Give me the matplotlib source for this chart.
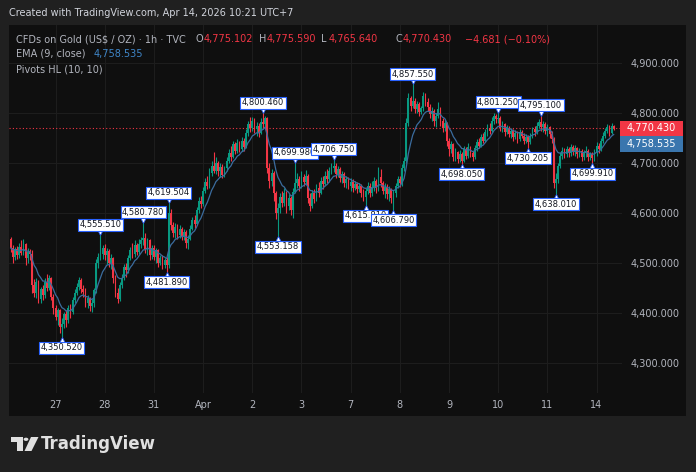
import matplotlib.pyplot as plt
import matplotlib.patches as mpatches
import matplotlib.transforms as mtransforms
import numpy as np
import pandas as pd

W, H = 696, 472

# x-axis day labels and the bar where each day starts
day_labels = ["27", "28", "31", "Apr", "2", "3", "7", "8", "9", "10", "11", "14"]
day_start = [21, 44, 67, 90, 113, 136, 159, 182, 205, 228, 251, 274]

first_open = 4548.0
closes = [
    4530, 4512, 4528, 4515, 4532, 4520, 4538, 4510, 4522, 4518, 4455, 4440, 4462, 4428, 4448, 4436, 4462, 4450, 4470, 4432, 4410,
    4392, 4405, 4372, 4378, 4398, 4385, 4410, 4402, 4425, 4440, 4452, 4465, 4448, 4442, 4420, 4430, 4414, 4420, 4445, 4500, 4512, 4518, 4530,
    4515, 4524, 4500, 4510, 4470, 4440, 4428, 4455, 4470, 4492, 4485, 4510, 4525, 4518, 4535, 4522, 4538, 4545, 4550, 4528, 4545, 4515, 4530,
    4512, 4525, 4500, 4510, 4496, 4505, 4495, 4600, 4575, 4560, 4572, 4555, 4568, 4552, 4562, 4540, 4548, 4568, 4585, 4578, 4605, 4625, 4618,
    4645, 4662, 4655, 4680, 4695, 4685, 4700, 4685, 4692, 4676, 4690, 4705, 4720, 4712, 4738, 4725, 4740, 4728, 4745, 4732, 4760, 4778, 4770,
    4785, 4768, 4775, 4760, 4782, 4778, 4790, 4690, 4665, 4680, 4640, 4600, 4610, 4632, 4620, 4640, 4615, 4630, 4605, 4642, 4660, 4668, 4655,
    4672, 4662, 4675, 4630, 4615, 4640, 4628, 4650, 4640, 4665, 4658, 4675, 4668, 4685, 4690, 4695, 4678, 4688, 4670, 4678, 4660, 4668, 4655,
    4662, 4650, 4658, 4648, 4655, 4640, 4632, 4645, 4655, 4640, 4652, 4665, 4650, 4672, 4660, 4645, 4652, 4638, 4648, 4630, 4640, 4655, 4668,
    4660, 4690, 4705, 4780, 4830, 4815, 4825, 4808, 4818, 4802, 4810, 4835, 4822, 4812, 4798, 4805, 4785, 4795, 4808, 4785, 4770, 4780, 4745,
    4728, 4738, 4712, 4722, 4708, 4718, 4705, 4728, 4715, 4732, 4720, 4712, 4730, 4742, 4735, 4752, 4745, 4762, 4770, 4765, 4785, 4795, 4788,
    4790, 4770, 4778, 4762, 4770, 4758, 4765, 4752, 4760, 4748, 4762, 4755, 4745, 4752, 4742, 4755, 4768, 4762, 4775, 4782, 4772, 4778, 4765,
    4772, 4758, 4748, 4660, 4668, 4695, 4715, 4725, 4718, 4728, 4720, 4732, 4722, 4730, 4718, 4725, 4712, 4720, 4725, 4712, 4718, 4710, 4722,
    4735, 4728, 4745, 4755, 4765, 4772, 4760, 4775.1, 4770.43,
]
highs = [
    4552, 4535, 4532, 4534, 4540, 4545, 4548, 4540, 4530, 4528, 4525, 4468, 4470, 4465, 4452, 4455, 4470, 4478, 4476, 4472, 4438,
    4415, 4410, 4408, 4390, 4402, 4405, 4415, 4418, 4432, 4448, 4460, 4472, 4470, 4456, 4450, 4436, 4432, 4428, 4450, 4508, 4520, 4555.51, 4535,
    4538, 4530, 4528, 4518, 4512, 4475, 4450, 4462, 4478, 4498, 4500, 4516, 4532, 4540, 4545, 4540, 4548, 4552, 4580.78, 4560, 4550, 4548, 4536,
    4535, 4530, 4528, 4516, 4515, 4510, 4512, 4619.504, 4608, 4582, 4580, 4578, 4575, 4572, 4568, 4565, 4555, 4575, 4592, 4595, 4612, 4632, 4635,
    4652, 4670, 4675, 4690, 4705, 4722, 4712, 4705, 4700, 4698, 4695, 4712, 4728, 4735, 4745, 4742, 4748, 4745, 4752, 4750, 4768, 4785, 4792,
    4792, 4790, 4782, 4780, 4790, 4800.46, 4795, 4792, 4700, 4688, 4685, 4645, 4620, 4640, 4645, 4650, 4645, 4638, 4635, 4650, 4699.98, 4680, 4675,
    4685, 4678, 4686, 4678, 4640, 4646, 4648, 4658, 4662, 4672, 4675, 4685, 4688, 4692, 4700, 4706.75, 4700, 4695, 4692, 4684, 4682, 4675, 4672,
    4670, 4668, 4664, 4662, 4660, 4658, 4648, 4650, 4662, 4660, 4665, 4672, 4668, 4692, 4688, 4665, 4660, 4658, 4655, 4650, 4646, 4660, 4675,
    4675, 4698, 4712, 4790, 4840, 4835, 4857.55, 4830, 4825, 4822, 4815, 4842, 4840, 4830, 4818, 4812, 4808, 4800, 4822, 4812, 4790, 4788, 4782,
    4750, 4745, 4740, 4730, 4725, 4726, 4722, 4735, 4732, 4740, 4735, 4725, 4736, 4748, 4750, 4758, 4760, 4768, 4778, 4780, 4792, 4800, 4799,
    4801.25, 4795, 4785, 4780, 4776, 4774, 4770, 4768, 4766, 4764, 4768, 4766, 4760, 4758, 4756, 4760, 4772, 4775, 4782, 4788, 4795.1, 4785, 4782,
    4778, 4775, 4765, 4752, 4680, 4700, 4722, 4732, 4730, 4735, 4732, 4738, 4736, 4736, 4732, 4730, 4728, 4726, 4734, 4728, 4722, 4722, 4728,
    4742, 4740, 4750, 4762, 4770, 4778, 4776, 4780, 4775.59,
]
lows = [
    4522, 4500, 4505, 4508, 4510, 4515, 4516, 4495, 4500, 4506, 4440, 4432, 4430, 4420, 4420, 4426, 4430, 4444, 4446, 4425, 4398,
    4385, 4375, 4360, 4350.52, 4370, 4372, 4380, 4390, 4398, 4420, 4435, 4445, 4440, 4432, 4412, 4410, 4404, 4402, 4412, 4440, 4490, 4505, 4508,
    4505, 4498, 4492, 4488, 4460, 4432, 4420, 4424, 4450, 4466, 4472, 4480, 4505, 4510, 4512, 4515, 4518, 4530, 4535, 4520, 4515, 4505, 4508,
    4505, 4500, 4492, 4495, 4488, 4490, 4481.89, 4490, 4565, 4552, 4550, 4548, 4550, 4545, 4545, 4530, 4528, 4545, 4565, 4570, 4575, 4600, 4610,
    4615, 4640, 4648, 4650, 4675, 4680, 4678, 4675, 4672, 4670, 4672, 4685, 4700, 4705, 4710, 4718, 4720, 4722, 4725, 4725, 4730, 4755, 4762,
    4765, 4760, 4755, 4752, 4758, 4768, 4770, 4680, 4650, 4655, 4625, 4588, 4553.158, 4600, 4612, 4615, 4600, 4605, 4596, 4590, 4640, 4650, 4645,
    4650, 4655, 4658, 4620, 4603, 4610, 4620, 4625, 4632, 4638, 4648, 4655, 4660, 4662, 4678, 4682, 4670, 4672, 4662, 4660, 4652, 4650, 4648,
    4645, 4642, 4646, 4640, 4642, 4632, 4625, 4615.81, 4638, 4632, 4635, 4645, 4640, 4645, 4652, 4638, 4630, 4628, 4625, 4620, 4606.79, 4632, 4650,
    4652, 4655, 4685, 4700, 4775, 4805, 4810, 4800, 4800, 4795, 4798, 4805, 4815, 4805, 4790, 4785, 4775, 4772, 4790, 4775, 4762, 4765, 4735,
    4715, 4720, 4705, 4705, 4700, 4702, 4698.05, 4702, 4708, 4710, 4712, 4705, 4708, 4725, 4730, 4732, 4740, 4742, 4755, 4758, 4762, 4778, 4780,
    4780, 4765, 4762, 4755, 4758, 4752, 4750, 4745, 4748, 4740, 4745, 4750, 4738, 4740, 4730.205, 4738, 4750, 4755, 4758, 4770, 4765, 4762, 4758,
    4755, 4750, 4740, 4650, 4638.01, 4660, 4690, 4708, 4710, 4712, 4712, 4715, 4716, 4715, 4710, 4712, 4705, 4706, 4712, 4705, 4706, 4699.91, 4705,
    4715, 4720, 4725, 4740, 4750, 4760, 4755, 4758, 4765.64,
]

# pivot points (Pivots HL 10,10)
pivot_bars = [24, 42, 62, 73, 74, 118, 125, 133, 151, 166, 179, 188, 211, 228, 242, 248, 255, 272]
pivot_kind = ["L", "H", "H", "L", "H", "H", "L", "H", "H", "L", "L", "H", "L", "H", "L", "H", "L", "L"]

GREEN = "#089981"
RED = "#f23645"
BG = "#202020"
PANEL = "#0f0f0f"
TXT = "#b2b5be"
FS = 7.0


def fx(x):
    return x / W


def fy(y):
    return 1 - y / H


closes = np.array(closes, dtype=float)
highs = np.array(highs, dtype=float)
lows = np.array(lows, dtype=float)
opens = np.concatenate([[first_open], closes[:-1]])
idx = np.arange(len(closes))
ema = pd.Series(closes).ewm(span=9, adjust=False).mean()

fig = plt.figure(figsize=(W / 100, H / 100), dpi=100, facecolor=BG)
fig.patches.append(mpatches.Rectangle((fx(9), fy(416)), (686 - 9) / W, (416 - 25) / H,
                                      transform=fig.transFigure, fc=PANEL, ec="none", zorder=-5))

ax = fig.add_axes([fx(9), fy(393), (622 - 9) / W, (393 - 25) / H])
ax.set_zorder(2)
ax.set_facecolor(PANEL)
for s in ax.spines.values():
    s.set_visible(False)

# candles
up = closes >= opens
col = np.where(up, GREEN, RED)
ax.vlines(idx, lows, highs, colors=col, lw=0.8, zorder=3)
body_lo = np.minimum(opens, closes)
body_h = np.maximum(np.abs(closes - opens), 0.8)
ax.bar(idx, body_h, bottom=body_lo, width=0.82, color=col, lw=0, zorder=4)

# EMA
ax.plot(idx, ema, color="#3b6c9e", lw=0.9, zorder=5)

# last price line
ax.axhline(closes[-1], color=RED, ls=(0, (1, 2)), lw=0.8, zorder=2)

ax.set_xlim(-0.75, 285.9)
ax.set_ylim(4239.3, 4976.7)
ax.set_yticks(np.arange(4300, 4901, 100))
ax.set_yticklabels([f"{v:,.3f}" for v in np.arange(4300, 4901, 100)])
ax.yaxis.tick_right()
ax.set_xticks(day_start)
ax.set_xticklabels(day_labels)
ax.tick_params(axis="y", length=0, pad=6, labelsize=7, labelcolor=TXT)
ax.tick_params(axis="x", length=0, pad=5, labelsize=7, labelcolor=TXT)
ax.grid(color="#1d1d1d", lw=0.8, zorder=0)

# pivot labels
for b, k in zip(pivot_bars, pivot_kind):
    v = highs[b] if k == "H" else lows[b]
    sgn = 1 if k == "H" else -1
    tri = mtransforms.offset_copy(ax.transData, fig=fig, x=0, y=sgn * 3, units="dots")
    ax.plot(b, v, marker="v" if k == "H" else "^", ms=4, mfc="white", mec="#2962ff",
            mew=0.6, transform=tri, zorder=6)
    ax.annotate(f"{v:,.3f}", xy=(b, v), xytext=(0, sgn * 7.5), textcoords="offset points",
                ha="center", va="center", fontsize=6, color="#131722", zorder=7,
                bbox=dict(boxstyle="square,pad=0.18", fc="white", ec="#2962ff", lw=0.8))

# price boxes on the scale
fig.patches.append(mpatches.Rectangle((fx(620), fy(136)), 63 / W, 15.5 / H,
                                      transform=fig.transFigure, fc=RED, ec="none", zorder=3))
fig.text(fx(651.5), fy(128), f"{closes[-1]:,.3f}", color="white", fontsize=7, ha="center", va="center", zorder=4)
fig.patches.append(mpatches.Rectangle((fx(620), fy(151.5)), 63 / W, 15.5 / H,
                                      transform=fig.transFigure, fc="#3a76ae", ec="none", zorder=3))
fig.text(fx(651.5), fy(143.7), "4,758.535", color="white", fontsize=7, ha="center", va="center", zorder=4)

# header and legend
fig.text(fx(9), fy(12.5), "Created with TradingView.com, Apr 14, 2026 10:21 UTC+7",
         color="#d1d4dc", fontsize=7.0, va="center")
fig.text(fx(16), fy(39), "CFDs on Gold (US$ / OZ) · 1h · TVC", color=TXT, fontsize=FS, va="center", zorder=4)
ohlc_parts = [(196, "O", "4,775.102"), (259, "H", "4,775.590"), (321, "L", "4,765.640"), (395, "C", "4,770.430")]
for x, lab, val in ohlc_parts:
    fig.text(fx(x), fy(39), lab, color=TXT, fontsize=FS, va="center", zorder=4)
    fig.text(fx(x + 7.5), fy(39), val, color=RED, fontsize=FS, va="center", zorder=4)
fig.text(fx(465), fy(39), "\u22124.681 (\u22120.10%)", color=RED, fontsize=FS, va="center", zorder=4)
fig.text(fx(16), fy(54), "EMA (9, close)", color=TXT, fontsize=FS, va="center", zorder=4)
fig.text(fx(94), fy(54), "4,758.535", color="#3f86c8", fontsize=FS, va="center", zorder=4)
fig.text(fx(16), fy(69), "Pivots HL (10, 10)", color=TXT, fontsize=FS, va="center", zorder=4)

# TradingView logo
logo = "#e0e0e0"
fig.patches.append(mpatches.Rectangle((fx(11), fy(441.5)), 12 / W, 4.5 / H,
                                      transform=fig.transFigure, fc=logo, ec="none"))
fig.patches.append(mpatches.Rectangle((fx(17), fy(451)), 5.5 / W, 14 / H,
                                      transform=fig.transFigure, fc=logo, ec="none"))
fig.patches.append(mpatches.Circle((fx(26), fy(439.3)), 2.4 / W,
                                   transform=fig.transFigure, fc=logo, ec="none"))
fig.patches.append(mpatches.Polygon([(fx(31), fy(437)), (fx(38.5), fy(437)), (fx(31.5), fy(451)), (fx(24.5), fy(451))],
                                    transform=fig.transFigure, fc=logo, ec="none"))
fig.text(fx(41), fy(444), "TradingView", color=logo, fontsize=12, fontweight="bold", va="center")

fig.savefig("out.png", dpi=100, facecolor=BG)
